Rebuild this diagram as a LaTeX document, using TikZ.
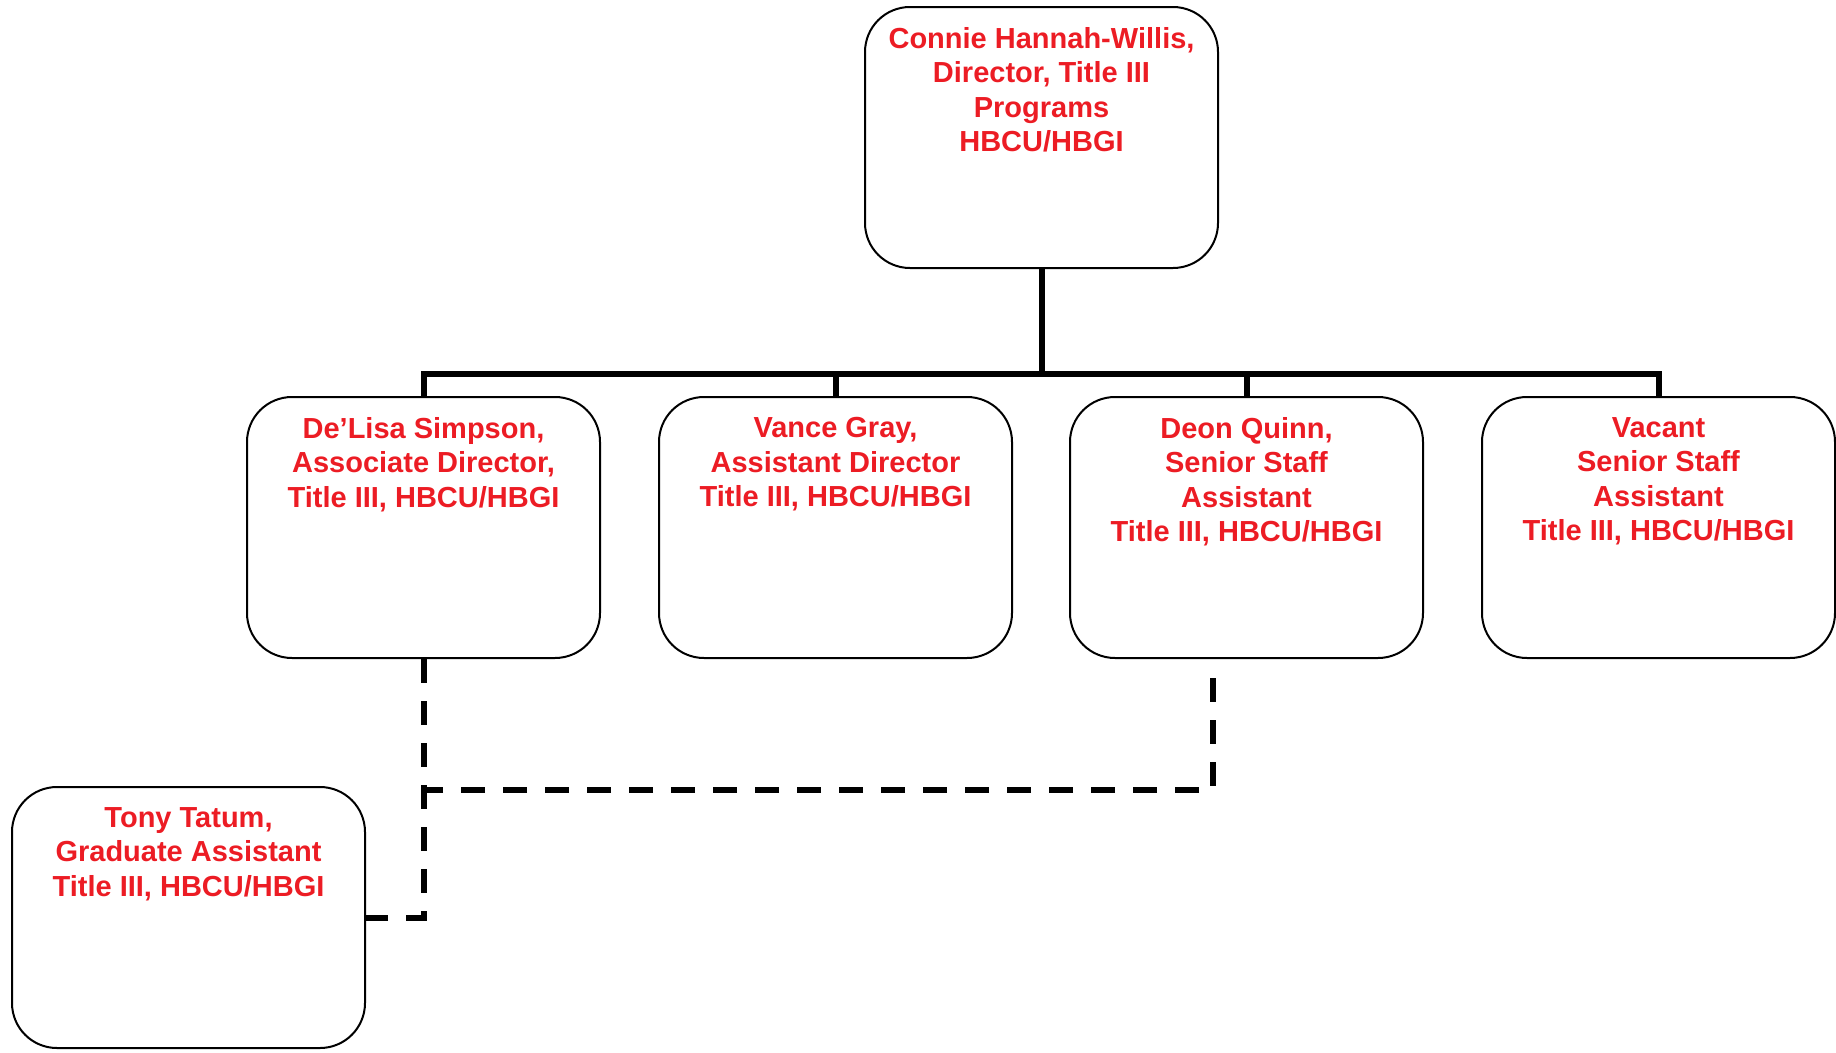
\documentclass[tikz,border=0pt]{standalone}
\usepackage{fontspec}
\setmainfont{Liberation Sans}
\definecolor{namered}{RGB}{236,28,36}
\newcommand{\boxtext}[1]{\parbox[t][220pt][t]{330pt}{\centering #1}}

\begin{document}
\begin{tikzpicture}[x=1pt,y=-1pt]
\tikzstyle{person}=[draw, rounded corners=45pt, line width=2pt, inner xsep=11.5pt, inner ysep=20.5pt, font=\fontsize{29}{34.4}\selectfont\bfseries, text=namered]
\tikzstyle{orgline}=[line width=6pt]
\tikzstyle{dashline}=[line width=6pt, dash pattern=on 24pt off 18pt]
\useasboundingbox (0,0) rectangle (1836,1052);

\node[person] (dir) at (1041.5,137.5) {\boxtext{Connie Hannah-Willis,\\ Director, Title III\\ Programs\\ HBCU/HBGI}};
\node[person] (ds) at (423.5,527.5) {\boxtext{De’Lisa Simpson,\\ Associate Director,\\ Title III, HBCU/HBGI}};
\node[person] (vg) at (835.5,527.5) {\boxtext{Vance Gray,\\ Assistant Director\\ Title III, HBCU/HBGI}};
\node[person] (dq) at (1246.5,527.5) {\boxtext{Deon Quinn,\\ Senior Staff\\ Assistant\\ Title III, HBCU/HBGI}};
\node[person] (vc) at (1658.5,527.5) {\boxtext{Vacant\\ Senior Staff\\ Assistant\\ Title III, HBCU/HBGI}};
\node[person] (tt) at (188.5,917.5) {\boxtext{Tony Tatum,\\ Graduate Assistant\\ Title III, HBCU/HBGI}};

\coordinate (bus) at (0,373.5);
\foreach \n in {ds,vg,dq,vc}
  \draw[orgline] (dir.south) -- (dir.south |- bus) -| (\n.north);

\coordinate (dqtip) at (1213,678);
\coordinate (dqbend) at (1213,790);
\draw[dashline] (ds.south) |- (tt.east);
\draw[dashline] (dqtip) -- (dqbend) -- (ds.south |- dqbend);

\end{tikzpicture}
\end{document}
